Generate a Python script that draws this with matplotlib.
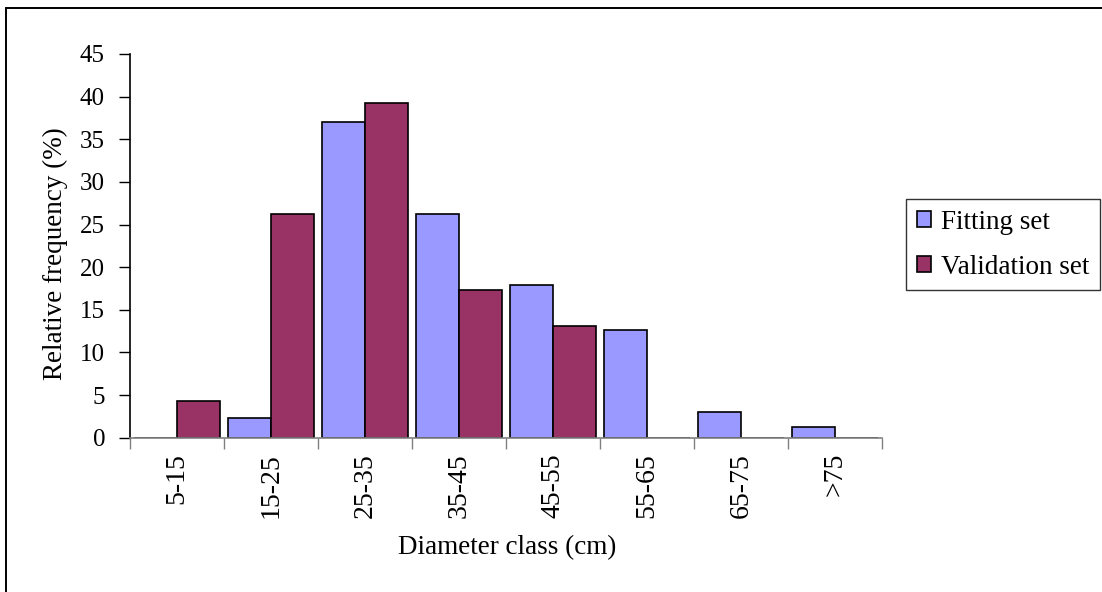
import numpy as np
import matplotlib
matplotlib.use("Agg")
import matplotlib.pyplot as plt
from matplotlib.patches import Rectangle

# Diameter classes and relative frequencies (%) for both data sets
classes = ["5-15", "15-25", "25-35", "35-45", "45-55", "55-65", "65-75", ">75"]
fitting_set = [0.0, 2.3, 37.0, 26.2, 17.9, 12.6, 3.0, 1.25]
validation_set = [4.3, 26.2, 39.3, 17.35, 13.05, 0.0, 0.0, 0.0]

plt.rcParams["font.family"] = ["Liberation Serif", "DejaVu Serif"]
plt.rcParams["font.size"] = 18

fig = plt.figure(figsize=(11.02, 5.92), dpi=100)
ax = fig.add_axes([130 / 1102, 1 - 437.7 / 592, 752 / 1102, (437.7 - 54) / 592])

# outer chart border
fig.patches.append(Rectangle((6 / 1102, -0.1), 1.2, 1 - 8 / 592 + 0.1,
                             transform=fig.transFigure, fill=False,
                             edgecolor="black", linewidth=1.4))

x = np.arange(len(classes)) + 0.5
w = 0.461
ax.bar(x - w / 2, fitting_set, width=w, color="#9999FF", edgecolor="black",
       linewidth=1.2, label="Fitting set")
ax.bar(x + w / 2, validation_set, width=w, color="#993366", edgecolor="black",
       linewidth=1.2, label="Validation set")

ax.set_xlim(0, len(classes))
ax.set_ylim(0, 45)
ax.set_yticks(range(0, 46, 5))

# ticks sit on class boundaries, labels in the middle
ax.set_xticks(np.arange(len(classes) + 1))
ax.set_xticklabels([])
ax.set_xticks(x, minor=True)
ax.set_xticklabels(classes, minor=True, rotation=90, fontsize=20)
ax.tick_params(axis="x", which="major", length=8, width=1, color="#808080", direction="out")
ax.tick_params(axis="x", which="minor", length=0, pad=11)
ax.tick_params(axis="y", length=8, width=1, direction="out", pad=10)

for side in ["top", "right"]:
    ax.spines[side].set_visible(False)
ax.spines["bottom"].set_color("#808080")
ax.spines["bottom"].set_linewidth(1.2)
ax.spines["left"].set_linewidth(1.2)

ax.set_xlabel("Diameter class (cm)", fontsize=19.5)
ax.set_ylabel("Relative frequency (%)", fontsize=19.5)
ax.xaxis.set_label_coords(0.502, -0.2536)
ax.yaxis.set_label_coords(-0.082, 0.48)

leg = fig.legend(loc="upper left", bbox_to_anchor=(906 / 1102, 1 - 199 / 592),
                 frameon=True, fancybox=False, edgecolor="black", fontsize=19.5,
                 handlelength=0.55, handleheight=0.5, handletextpad=0.35,
                 borderpad=0.39, labelspacing=0.74, borderaxespad=0)
leg.get_frame().set_linewidth(1.0)

fig.savefig("out.png", dpi=100, facecolor="white")
